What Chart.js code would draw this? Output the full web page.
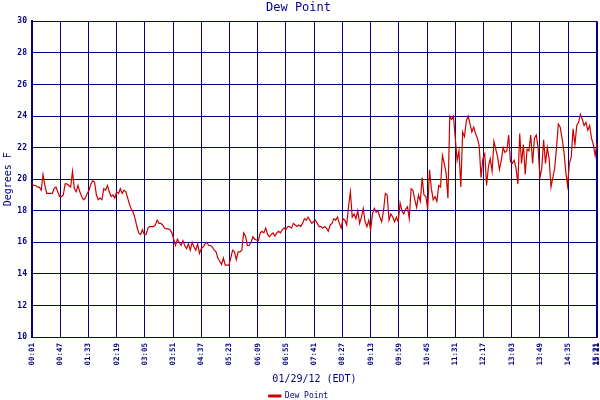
<!DOCTYPE html>
<html>
<head>
<meta charset="utf-8">
<title>Dew Point</title>
<script src="https://cdn.jsdelivr.net/npm/chart.js@4.4.1/dist/chart.umd.min.js"></script>
<style>
  html, body { margin: 0; padding: 0; background: #fff; }
  #wrap { width: 600px; height: 400px; }
</style>
</head>
<body>
<div id="wrap"><canvas id="dewChart" width="600" height="400"></canvas></div>
<script>
// readings every 3 minutes starting 00:01
const startMinute = 1;
const stepMinutes = 3;
const dewPoint = [
  19.7, 19.6, 19.6, 19.5, 19.5, 19.3, 20.3, 19.6, 19.1, 19.1,
  19.1, 19.1, 19.4, 19.5, 19.2, 18.9, 18.9, 19.0, 19.7, 19.7,
  19.6, 19.5, 20.5, 19.4, 19.2, 19.6, 19.2, 18.9, 18.7, 18.8,
  19.1, 19.3, 19.7, 19.9, 19.8, 19.0, 18.7, 18.8, 18.7, 19.4,
  19.3, 19.6, 19.2, 18.9, 19.0, 18.8, 19.2, 19.1, 19.4, 19.1,
  19.3, 19.2, 18.8, 18.4, 18.1, 17.9, 17.5, 17.0, 16.6, 16.5,
  16.8, 16.5, 16.5, 16.9, 17.0, 17.0, 17.0, 17.1, 17.4, 17.2,
  17.2, 17.1, 16.9, 16.85, 16.85, 16.8, 16.6, 16.2, 15.8, 16.2,
  16.0, 15.8, 16.1, 15.8, 15.6, 15.9, 15.5, 16.0, 15.7, 15.5,
  15.9, 15.3, 15.6, 15.7, 15.9, 16.0, 15.8, 15.8, 15.7, 15.5,
  15.4, 15.0, 14.8, 14.6, 15.0, 14.55, 14.55, 14.55, 15.0, 15.5,
  15.4, 14.9, 15.4, 15.4, 15.5, 16.6, 16.4, 15.8, 15.8, 16.0,
  16.35, 16.2, 16.15, 16.1, 16.6, 16.7, 16.6, 16.9, 16.5, 16.35,
  16.5, 16.6, 16.4, 16.6, 16.7, 16.6, 16.8, 16.9, 16.8, 17.0,
  17.0, 16.9, 17.2, 17.1, 17.0, 17.1, 17.0, 17.2, 17.5, 17.4,
  17.6, 17.4, 17.2, 17.3, 17.4, 17.2, 17.0, 17.0, 16.9, 17.0,
  16.9, 16.7, 17.1, 17.2, 17.5, 17.4, 17.6, 17.2, 16.9, 17.5,
  17.4, 17.1, 18.3, 19.2, 17.6, 17.8, 17.5, 18.0, 17.2, 17.6,
  18.15, 17.3, 17.0, 17.4, 16.8, 17.8, 18.15, 17.9, 18.0, 17.6,
  17.3, 18.0, 19.1, 19.0, 17.4, 17.8, 17.6, 17.3, 17.6, 17.3,
  18.5, 18.0, 17.8, 18.1, 18.25, 17.5, 19.4, 19.3, 18.7, 18.2,
  19.0, 18.6, 20.1, 19.0, 18.9, 18.1, 20.6, 19.4, 18.7, 18.9,
  18.6, 19.6, 19.5, 21.5, 21.0, 20.4, 18.8, 24.0, 23.8, 24.0,
  22.6, 21.2, 21.8, 19.5, 23.0, 22.7, 23.7, 24.0, 23.5, 23.0,
  23.3, 22.9, 22.6, 22.1, 20.1, 21.3, 21.6, 19.6, 20.8, 21.3,
  20.5, 22.4, 21.9, 21.4, 20.6, 21.2, 22.0, 21.7, 21.8, 22.8,
  21.1, 21.0, 21.2, 20.7, 19.7, 22.9, 21.0, 22.2, 20.3, 21.9,
  21.8, 22.8, 21.0, 22.6, 22.8, 22.0, 20.1, 20.7, 22.5, 21.0,
  22.0, 21.3, 19.5, 20.1, 20.7, 22.0, 23.5, 23.3, 22.6, 21.8,
  20.5, 19.6, 21.0, 21.4, 23.2, 22.2, 23.4, 23.6, 24.1, 23.8,
  23.4, 23.6, 23.1, 23.4, 22.6, 22.2, 21.5, 22.3
];

const tickMinutes = [1, 47, 93, 139, 185, 231, 277, 323, 369, 415, 461,
  507, 553, 599, 645, 691, 737, 783, 829, 875, 921, 922];
const tickLabels = ['00:01', '00:47', '01:33', '02:19', '03:05', '03:51', '04:37',
  '05:23', '06:09', '06:55', '07:41', '08:27', '09:13', '09:59', '10:45', '11:31',
  '12:17', '13:03', '13:49', '14:35', '15:21', '15:21'];
const yTicks = [10, 12, 14, 16, 18, 20, 22, 24, 26, 28, 30];

const navy = '#000080';
const mono = "'DejaVu Sans Mono', monospace";

const points = dewPoint.map((v, i) => ({ x: startMinute + i * stepMinutes, y: v }));

const ctx = document.getElementById('dewChart').getContext('2d');
new Chart(ctx, {
  type: 'line',
  data: {
    datasets: [{
      label: 'Dew Point',
      data: points,
      borderColor: '#cc0000',
      backgroundColor: '#cc0000',
      borderWidth: 1.2,
      pointRadius: 0,
      tension: 0
    }]
  },
  options: {
    responsive: false,
    animation: false,
    layout: { padding: { left: 0, right: 3, top: 0, bottom: -10 } },
    plugins: {
      title: {
        display: true,
        text: 'Dew Point',
        color: '#0000a0',
        font: { family: mono, size: 12, weight: 'normal' },
        padding: { top: 1, bottom: 6 }
      },
      legend: {
        position: 'bottom',
        labels: {
          color: navy,
          font: { family: mono, size: 8 },
          boxWidth: 12,
          boxHeight: 2,
          padding: 2
        }
      },
      tooltip: { enabled: false }
    },
    scales: {
      x: {
        type: 'linear',
        min: 1,
        max: 922,
        afterBuildTicks: function(scale) {
          scale.ticks = tickMinutes.map(v => ({ value: v }));
        },
        afterFit: function(scale) {
          scale.height = 53;
          scale.paddingLeft = 0;
          scale.paddingRight = 0;
        },
        ticks: {
          autoSkip: false,
          maxRotation: 90,
          minRotation: 90,
          padding: 6,
          color: navy,
          font: { family: mono, size: 7.5, weight: 'bold' },
          callback: function(value, index) {
            return tickLabels[index];
          }
        },
        grid: { color: navy, lineWidth: 1, drawTicks: false },
        border: { color: navy, width: 1 },
        title: {
          display: true,
          text: '01/29/12 (EDT)',
          color: navy,
          font: { family: mono, size: 10 },
          padding: { top: 0, bottom: 5 }
        }
      },
      y: {
        min: 10,
        max: 30,
        afterBuildTicks: function(scale) {
          scale.ticks = yTicks.map(v => ({ value: v }));
        },
        afterFit: function(scale) {
          scale.width = 32;
        },
        ticks: {
          padding: 5,
          color: navy,
          font: { family: mono, size: 8, weight: 'bold' }
        },
        grid: { color: navy, lineWidth: 1, drawTicks: false },
        border: { color: navy, width: 2 },
        title: {
          display: true,
          text: 'Degrees F',
          color: navy,
          font: { family: mono, size: 10 },
          padding: { top: 2, bottom: 0 }
        }
      }
    }
  }
});
</script>
</body>
</html>
